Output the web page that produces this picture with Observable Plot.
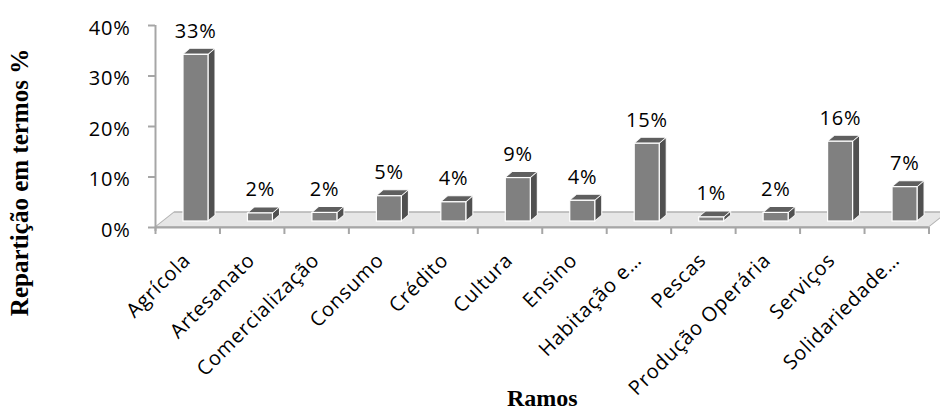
<!DOCTYPE html>
<html><head><meta charset="utf-8">
<script src="https://cdn.jsdelivr.net/npm/d3@7"></script>
<script src="https://cdn.jsdelivr.net/npm/@observablehq/plot@0.6"></script>
<style>
html,body{margin:0;padding:0;background:#fff;}
#chart svg{display:block;}
g[font-family*="Open Sans"] text{letter-spacing:0.8px;}
</style></head><body><div id="chart"></div>
<script>
// ---- data ----
const ramos = ["Agrícola","Artesanato","Comercialização","Consumo","Crédito","Cultura","Ensino","Habitação e…","Pescas","Produção Operária","Serviços","Solidariedade…"];
const reparticao = [0.33,0.016,0.017,0.05,0.038,0.086,0.041,0.154,0.008,0.017,0.158,0.068];
const yTicks = [0,0.1,0.2,0.3,0.4];
const xTitle = "Ramos";
const yTitle = "Repartição em termos %";

// ---- layout ----
const W = 940, H = 410, mL = 155, mR = 11.5, mT = 25, mB = 183;
const bw = (W - mL - mR) / ramos.length;
const frontL = 28, frontW = 25, depthX = 7, depthY = 6, floorD = 15, floorShift = 19;
const data = ramos.map((r, i) => ({ramo: r, i, v: reparticao[i]}));
const pct = d3.format(".0%");
const sans = "Open Sans, Lato, sans-serif";
const serif = "Liberation Serif, Times New Roman, serif";
const grid = "#a6a6a6";
const C = {floor: "#e6e6e6", side: "#505050", top: "#5f5f5f", front: "#808080"};

const chart = Plot.plot({
  width: W, height: H,
  marginLeft: mL, marginRight: mR, marginTop: mT, marginBottom: mB,
  x: {domain: [0, ramos.length], axis: null},
  y: {domain: [0, 0.4], axis: null},
  style: {background: "white"},
  marks: [
    // floor
    Plot.rect([0], {x1: 0, x2: ramos.length, y1: 0, y2: 0, insetTop: -floorD, fill: C.floor, stroke: "#b3b3b3", strokeWidth: 1.5}),
    // y axis line + ticks
    Plot.ruleX([0], {y1: 0.4, y2: 0, insetBottom: -4, stroke: grid, strokeWidth: 2}),
    Plot.ruleY(yTicks, {x1: 0, x2: 0, insetLeft: -7, stroke: grid, strokeWidth: 2}),
    // x axis line + ticks at band edges
    Plot.ruleY([0], {x1: 0, x2: ramos.length, stroke: grid, strokeWidth: 2}),
    Plot.ruleX(d3.range(ramos.length + 1), {y1: 0, y2: 0, insetBottom: -7, stroke: grid, strokeWidth: 2}),
    // bars: side, top, front
    Plot.rect(data, {x1: "i", x2: d => d.i + 1, y1: 0, y2: "v", insetLeft: frontL + frontW, insetRight: bw - frontL - frontW - depthX, dy: -depthY, fill: C.side, stroke: "white", strokeWidth: 1}),
    Plot.rect(data, {x1: "i", x2: d => d.i + 1, y1: "v", y2: "v", insetTop: -depthY, insetLeft: frontL, insetRight: bw - frontL - frontW, dy: -depthY, fill: C.top, stroke: "white", strokeWidth: 1}),
    Plot.rect(data, {x1: "i", x2: d => d.i + 1, y1: 0, y2: "v", insetLeft: frontL, insetRight: bw - frontL - frontW, dy: -depthY, fill: C.front, stroke: "white", strokeWidth: 1.2}),
    // value labels
    Plot.text(data, {x: d => d.i + 0.5, y: "v", text: d => pct(d.v), lineAnchor: "bottom", dx: 8, dy: -23, fontSize: 20, fontFamily: sans, fill: "black"}),
    // y tick labels
    Plot.text(yTicks, {x: 0, y: d => d, text: d => pct(d), textAnchor: "end", dx: -25, dy: 3, fontSize: 20, fontFamily: sans, fill: "black"}),
    // x tick labels
    Plot.text(data, {x: d => d.i + 0.5, y: 0, text: "ramo", rotate: -45, textAnchor: "end", lineAnchor: "bottom", dx: 4, dy: 34, fontSize: 20, fontFamily: sans, fill: "black"}),
    // axis titles
    Plot.text([yTitle], {x: 0, y: 0, text: d => d, rotate: -90, textAnchor: "middle", lineAnchor: "middle", dx: -136, dy: -45, fontSize: 25, fontWeight: "bold", fontFamily: serif, fill: "black"}),
    Plot.text([xTitle], {x: ramos.length / 2, y: 0, text: d => d, lineAnchor: "bottom", dy: 178, fontSize: 24, fontWeight: "bold", fontFamily: serif, fill: "black"})
  ]
});

const s = d3.select(chart);
function skew(fill, kind, deg) {
  s.selectAll("g").filter(function () { return this.getAttribute("fill") === fill; })
    .selectAll("rect")
    .attr("transform", function () {
      const x = +this.getAttribute("x"), y = +this.getAttribute("y"), h = +this.getAttribute("height");
      const oy = y + h;
      return `translate(${x},${oy}) ${kind}(${deg}) translate(${-x},${-oy})`;
    });
}
const deg = r => Math.atan(r) * 180 / Math.PI;
skew(C.side, "skewY", -deg(depthY / depthX));
skew(C.top, "skewX", -deg(depthX / depthY));
skew(C.floor, "skewX", -deg(floorShift / floorD));
document.getElementById("chart").appendChild(chart);
</script></body></html>
